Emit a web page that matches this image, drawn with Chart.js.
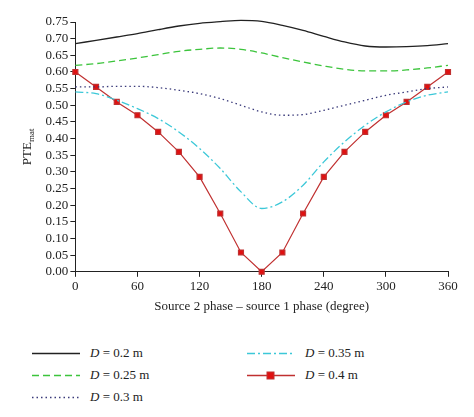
<!DOCTYPE html>
<html>
<head>
<meta charset="utf-8">
<script src="https://cdn.jsdelivr.net/npm/chart.js@4.4.0/dist/chart.umd.min.js"></script>
<style>
  body { margin: 0; background: #fff; font-family: "Liberation Serif", serif; }
  #wrap { position: relative; width: 474px; height: 318px; }
  #legend { position: absolute; top: 345px; left: 32px; width: 430px; font-size: 13px; color: #222; }
  .item { position: absolute; display: flex; align-items: center; }
  .item svg { margin-right: 10px; }
</style>
</head>
<body>
<div id="wrap"><canvas id="c"></canvas></div>
<div id="legend"></div>
<script>
const phases = [0, 20, 40, 60, 80, 100, 120, 140, 160, 180, 200, 220, 240, 260, 280, 300, 320, 340, 360];
const d020 = [0.685, 0.695, 0.705, 0.715, 0.727, 0.738, 0.746, 0.751, 0.755, 0.752, 0.740, 0.725, 0.707, 0.690, 0.678, 0.675, 0.676, 0.679, 0.685];
const d025 = [0.620, 0.625, 0.633, 0.642, 0.652, 0.662, 0.668, 0.672, 0.668, 0.657, 0.643, 0.630, 0.618, 0.608, 0.603, 0.603, 0.606, 0.612, 0.620];
const d030 = [0.555, 0.555, 0.557, 0.557, 0.553, 0.545, 0.535, 0.520, 0.500, 0.480, 0.470, 0.472, 0.485, 0.500, 0.515, 0.530, 0.540, 0.550, 0.555];
const d035 = [0.540, 0.535, 0.515, 0.490, 0.460, 0.420, 0.370, 0.310, 0.240, 0.190, 0.210, 0.260, 0.330, 0.390, 0.440, 0.480, 0.510, 0.530, 0.540];
const d040 = [0.600, 0.555, 0.510, 0.470, 0.420, 0.360, 0.285, 0.175, 0.058, 0.000, 0.058, 0.175, 0.285, 0.360, 0.420, 0.470, 0.510, 0.555, 0.600];
const xTicks = [0, 60, 120, 180, 240, 300, 360];

const series = [
  { label: '0.2 m', data: d020, color: '#222222', dash: [], smooth: true },
  { label: '0.25 m', data: d025, color: '#3cc43c', dash: [7, 4], smooth: true },
  { label: '0.3 m', data: d030, color: '#3a3a7a', dash: [1.5, 3], smooth: true },
  { label: '0.35 m', data: d035, color: '#3cc8d8', dash: [8, 3, 2, 3], smooth: true },
  { label: '0.4 m', data: d040, color: '#c03030', dash: [], smooth: false, marker: true }
];

const axisFont = { family: 'Liberation Serif', size: 13 };

const yTitle = {
  id: 'yTitle',
  afterDraw(chart) {
    const ctx = chart.ctx, a = chart.chartArea;
    ctx.save();
    ctx.translate(28, (a.top + a.bottom) / 2);
    ctx.rotate(-Math.PI / 2);
    ctx.fillStyle = '#222';
    ctx.font = '13px "Liberation Serif"';
    const w1 = ctx.measureText('PTE').width;
    ctx.font = '9px "Liberation Serif"';
    const w2 = ctx.measureText('mat').width;
    const x0 = -(w1 + w2) / 2;
    ctx.textBaseline = 'middle';
    ctx.font = '13px "Liberation Serif"';
    ctx.fillText('PTE', x0, 0);
    ctx.font = '9px "Liberation Serif"';
    ctx.fillText('mat', x0 + w1, 4);
    ctx.restore();
  }
};

new Chart(document.getElementById('c'), {
  type: 'line',
  data: {
    datasets: series.map(s => ({
      label: s.label,
      data: phases.map((p, i) => ({ x: p, y: s.data[i] })),
      borderColor: s.color,
      backgroundColor: s.marker ? '#e01010' : s.color,
      borderDash: s.dash,
      borderWidth: s.marker ? 1.2 : 1.3,
      tension: s.smooth ? 0.4 : 0,
      cubicInterpolationMode: s.smooth ? 'monotone' : 'default',
      pointRadius: s.marker ? 3.5 : 0,
      pointStyle: 'rect',
      pointBorderColor: '#c03030',
      clip: false
    }))
  },
  options: {
    responsive: true,
    maintainAspectRatio: false,
    animation: false,
    layout: { padding: { left: 12, right: 26, top: 22, bottom: 0 } },
    plugins: { legend: { display: false }, tooltip: { enabled: false } },
    scales: {
      x: {
        type: 'linear', min: 0, max: 360,
        afterBuildTicks: ax => { ax.ticks = xTicks.map(v => ({ value: v })); },
        grid: { drawOnChartArea: false, tickLength: 5, color: '#222' },
        border: { color: '#222', width: 1 },
        ticks: { color: '#222', font: axisFont, maxRotation: 0, padding: 2 },
        title: { display: true, text: 'Source 2 phase \u2013 source 1 phase (degree)', color: '#222', font: axisFont, padding: { top: 2 } }
      },
      y: {
        min: 0, max: 0.75,
        grid: { drawOnChartArea: false, tickLength: 5, color: '#222' },
        border: { color: '#222', width: 1 },
        ticks: { stepSize: 0.05, autoSkip: false, color: '#222', font: axisFont, padding: 2, callback: v => v.toFixed(2) },
        title: { display: true, text: ' ', font: axisFont, padding: { bottom: 12 } }
      }
    }
  },
  plugins: [yTitle]
});

const legend = document.getElementById('legend');
series.forEach((s, i) => {
  const col = i < 3 ? 0 : 1;
  const row = i < 3 ? i : i - 3;
  const el = document.createElement('div');
  el.className = 'item';
  el.style.left = (col === 0 ? 0 : 215) + 'px';
  el.style.top = (row * 22) + 'px';
  const dash = s.dash.length ? `stroke-dasharray="${s.dash.join(' ')}"` : '';
  const mark = s.marker ? `<rect x="20" y="4" width="7" height="7" fill="#e01010" stroke="#c03030"/>` : '';
  el.innerHTML = `<svg width="48" height="14"><line x1="0" y1="7.5" x2="48" y2="7.5" stroke="${s.color}" stroke-width="1.3" ${dash}/>${mark}</svg><span><i>D</i> = ${s.label}</span>`;
  legend.appendChild(el);
});
</script>
</body>
</html>
